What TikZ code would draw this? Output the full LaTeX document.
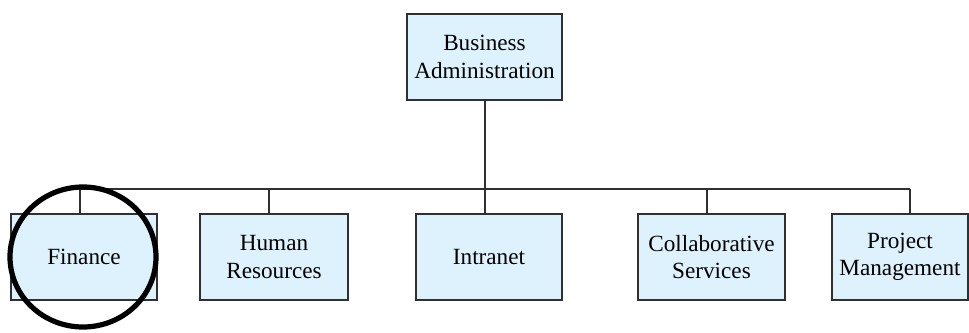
\documentclass[tikz,border=0pt]{standalone}
\usepackage{fontspec}
\setmainfont{Liberation Serif}
\definecolor{boxfill}{HTML}{DDF2FD}
\definecolor{boxline}{HTML}{303030}
\tikzset{
  unit/.style={draw=boxline, fill=boxfill, line width=0.6pt, align=center,
    minimum height=43pt, inner sep=1pt, font=\fontsize{11.6}{13.8}\selectfont},
  link/.style={draw=boxline, line width=0.55pt}
}
\begin{document}
\begin{tikzpicture}[x=0.5pt,y=-0.5pt]
  \useasboundingbox (0,0) rectangle (969,332);
  \draw
    (484.5,57) node[unit, minimum width=77.5pt] (ba){Business\\Administration}
    (84,257) node[unit, minimum width=73pt] (fin){Finance}
    (274,257) node[unit, minimum width=74pt] (hr){Human\\Resources}
    (489,257) node[unit, minimum width=73pt] (intra){Intranet}
    (711.5,257) node[unit, minimum width=73.5pt] (collab){Collaborative\\Services}
    (900,257) node[unit, minimum width=68pt] (pm){Project\\Management};
  \coordinate (busl) at (80,189);
  \coordinate (busr) at (910,189);
  \coordinate (busm) at (485,189);
  \coordinate (bushr) at (269,189);
  \coordinate (buscol) at (707,189);
  \begin{scope}[link]
    \draw (busm |- ba.south) to (busm);
    \draw (busl) to (busr);
    \draw (busl) to (busl |- fin.north);
    \draw (bushr) to (bushr |- hr.north);
    \draw (busm) to (busm |- intra.north);
    \draw (buscol) to (buscol |- collab.north);
    \draw (busr) to (busr |- pm.north);
  \end{scope}
  \draw[line width=2.6pt] (83,257) ellipse [x radius=36.5pt, y radius=35pt];
\end{tikzpicture}
\end{document}
